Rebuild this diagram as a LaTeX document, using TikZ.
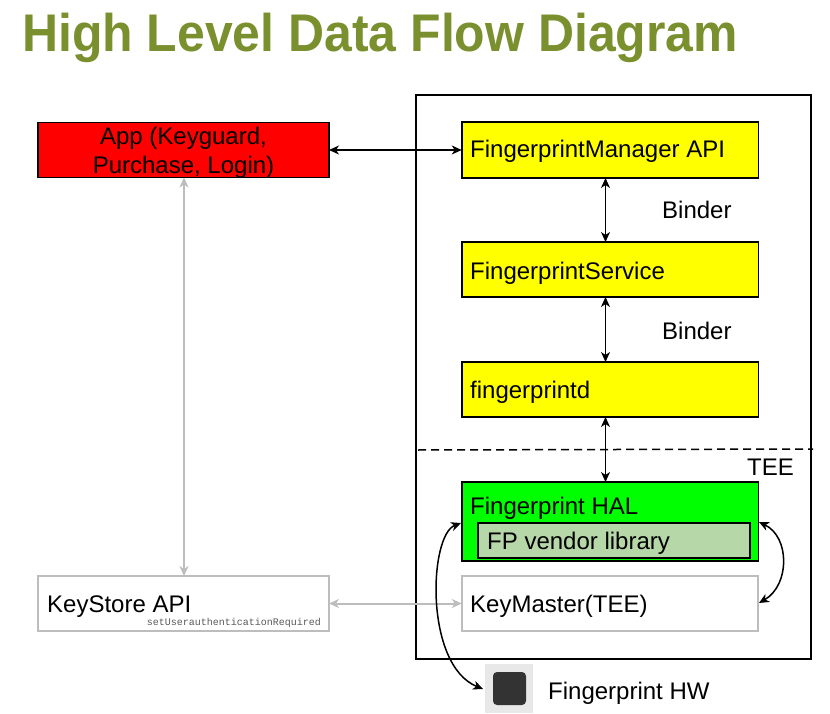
\documentclass[tikz,border=0pt]{standalone}
\usepackage{fontspec}
\usetikzlibrary{arrows.meta}
\setmainfont{Liberation Sans}
\setmonofont{Liberation Mono}
\newfontfamily\headfont[FakeStretch=0.942]{Liberation Sans Bold}
\definecolor{titlegreen}{HTML}{7A8F2E}
\definecolor{softgray}{HTML}{BDBDBD}
\definecolor{vendorgreen}{HTML}{B6D7A8}
\definecolor{pureyellow}{HTML}{FFFF00}
\definecolor{puregreen}{HTML}{00FF00}
\definecolor{purered}{HTML}{FF0000}
\tikzset{
  box/.style={draw=black,line width=1.5pt,minimum width=296.5pt,minimum height=55pt,inner sep=0pt,outer sep=0pt},
  leftbox/.style={box,minimum width=291pt},
  softbox/.style={box,draw=softgray,line width=2pt},
  lab/.style={font=\fontsize{24}{28}\selectfont,inner sep=0pt,anchor=base west},
  dbl/.style={{Stealth[length=10pt,width=9pt,inset=3pt]}-{Stealth[length=10pt,width=9pt,inset=3pt]},line width=1.5pt},
  softdbl/.style={dbl,draw=softgray,line width=2pt},
}
\begin{document}
\begin{tikzpicture}[x=1pt,y=-1pt]
\useasboundingbox (0,0) rectangle (830,714);
\node[anchor=base west,inner sep=0pt,text=titlegreen,font=\headfont\fontsize{53}{60}\selectfont] (title) at (22,52) {High Level Data Flow Diagram};

\node[draw=black,line width=2pt,minimum width=395pt,minimum height=564pt,inner sep=0pt] (outer) at (613.5,377) {};

\node[leftbox,fill=purered] (app) at (183.5,150) {};
\node[box,fill=pureyellow,minimum height=56pt] (mgr) at (610,150) {};
\node[box,fill=pureyellow] (svc) at (610,269.5) {};
\node[box,fill=pureyellow] (fpd) at (610,389.5) {};
\node[box,fill=puregreen,minimum height=79pt] (hal) at (610,521.5) {};
\node[box,fill=vendorgreen,line width=2pt,minimum width=272.5pt,minimum height=35pt] (vendor) at (614,540.5) {};
\node[softbox,fill=white] (km) at (610,603.5) {};
\node[softbox,minimum width=291pt,fill=white] (ks) at (183.5,603.5) {};

\node[align=center,inner sep=0pt,font=\fontsize{24}{29}\selectfont] (appt) at (183.5,153) {App (Keyguard,\\Purchase, Login)};
\node[lab] (mgrt) at (470,158) {FingerprintManager API};
\node[lab] (svct) at (470,279) {FingerprintService};
\node[lab] (fpdt) at (470,398) {fingerprintd};
\node[lab] (halt) at (470,514) {Fingerprint HAL};
\node[lab] (vendt) at (487,549) {FP vendor library};
\node[lab] (kmt) at (470,612) {KeyMaster(TEE)};
\node[lab] (kst) at (47,612) {KeyStore API};
\node[anchor=base east,inner sep=0pt,text=black!65,font=\ttfamily\fontsize{10}{12}\selectfont] (setu) at (321,625) {setUserauthenticationRequired};
\node[lab] (b1) at (662,219) {Binder};
\node[lab] (b2) at (662,339) {Binder};
\node[lab] (tee) at (747,475) {TEE};

\node[fill=black!9,minimum width=48pt,minimum height=49pt,inner sep=0pt] (hw) at (509,688.5) {};
\node[fill=black!80,rounded corners=4pt,minimum width=33pt,minimum height=33pt,inner sep=0pt] (chip) at (509.5,688.5) {};
\node[lab] (hwt) at (548,699) {Fingerprint HW};

\coordinate (dl) at (418,450);
\coordinate (dr) at (813,449);
\draw[line width=1.5pt,dash pattern=on 8pt off 5pt] (dl) -- (dr);

\draw[dbl] (app.east |- mgr.west) -- (mgr.west);
\draw[dbl] (mgr.south) ++(-4.5,0) coordinate (a1) -- (a1 |- svc.north);
\draw[dbl] (svc.south) ++(-4.5,0) coordinate (a2) -- (a2 |- fpd.north);
\draw[dbl] (fpd.south) ++(-4.5,0) coordinate (a3) -- (a3 |- hal.north);
\draw[softdbl] (app.south) ++(0.5,0) coordinate (a4) -- (a4 |- ks.north);
\draw[softdbl] (ks.east) -- (km.west);

\coordinate (halL) at (461,523);
\coordinate (halR) at (759,522);
\coordinate (kmR) at (759,603);
\coordinate (hwL) at (483,689);
\draw[dbl] (halL) .. controls (429,535) and (424,665) .. (hwL);
\draw[dbl] (halR) .. controls (790,537) and (790,585) .. (kmR);
\end{tikzpicture}
\end{document}
